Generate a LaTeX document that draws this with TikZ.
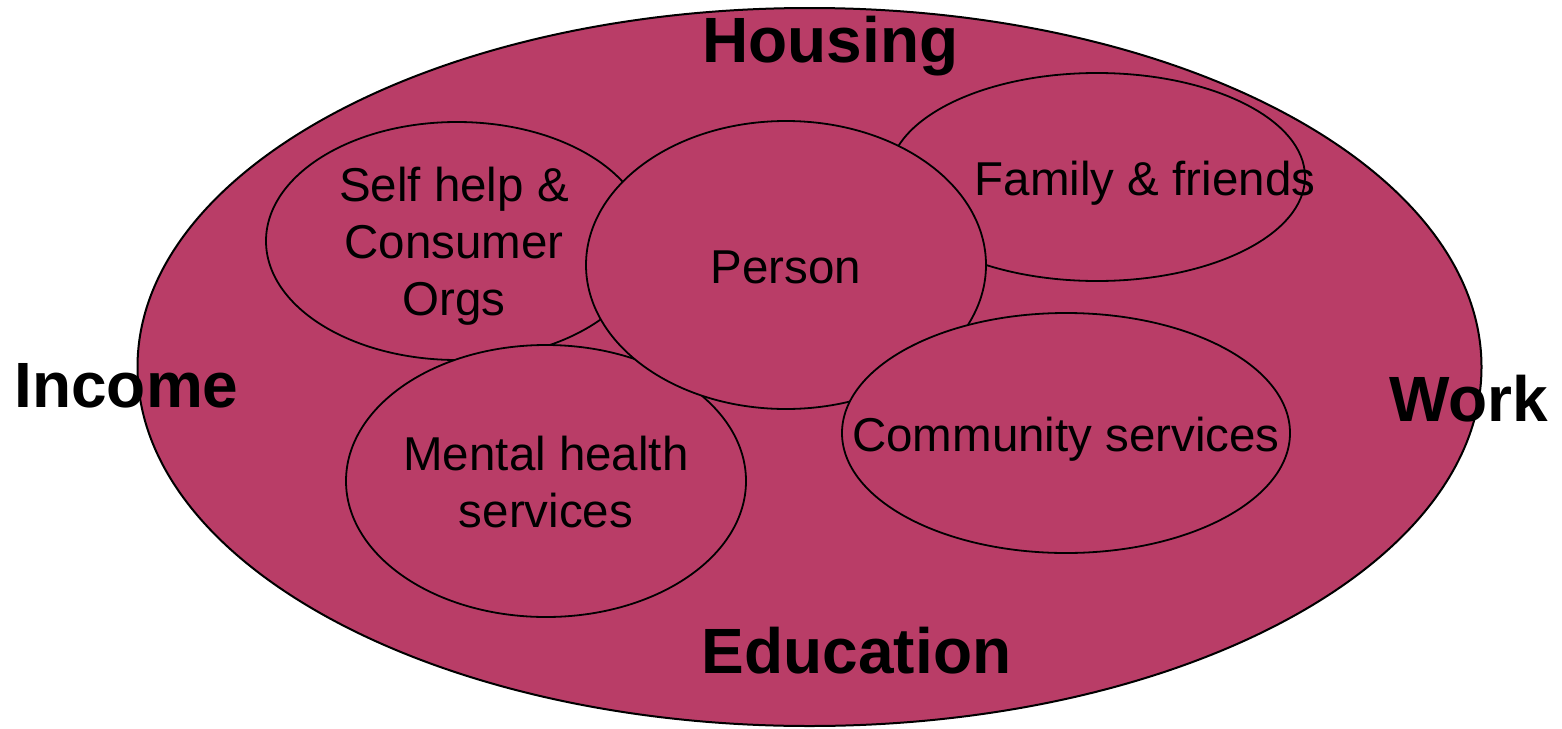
\documentclass[tikz,border=0pt]{standalone}
\usepackage{fontspec}
\setmainfont{Liberation Sans}
\definecolor{plum}{RGB}{185,61,103}
\begin{document}
\begin{tikzpicture}[x=1pt,y=-1pt,
  blob/.style={fill=plum,draw=black,line width=1.8pt},
  big/.style={fill=plum,draw=black,line width=2pt},
  lbl/.style={inner sep=0pt,anchor=base,align=center,font=\fontsize{47.5}{57}\selectfont},
  head/.style={inner sep=0pt,anchor=base,font=\fontsize{64}{70}\selectfont\bfseries}]
\useasboundingbox (0,0) rectangle (1562,728);
% outer field
\path[big] (809.5,367) ellipse [x radius=672, y radius=359];
% inner circles (drawing order matters)
\path[blob] (457,241) ellipse [x radius=191, y radius=119];
\path[blob] (1097,177) ellipse [x radius=208, y radius=104];
\path[blob] (546,481) ellipse [x radius=200, y radius=136];
\path[blob] (786,265) ellipse [x radius=200, y radius=144];
\path[blob] (1066,433) ellipse [x radius=224, y radius=120];
% labels (base anchor = baseline of last line)
\node[lbl] (self) at (454,315) {Self help \&\\Consumer\\Orgs};
\node[lbl] (family) at (1145,195) {Family \& friends};
\node[lbl] (mental) at (546,527) {Mental health\\services};
\node[lbl] (person) at (786,283) {Person};
\node[lbl] (community) at (1066,451) {Community services};
\node[head] (housing) at (830.5,62) {Housing};
\node[head] (income) at (126.5,407) {Income};
\node[head] (work) at (1469,421) {Work};
\node[head] (education) at (856.5,673) {Education};
\end{tikzpicture}
\end{document}
